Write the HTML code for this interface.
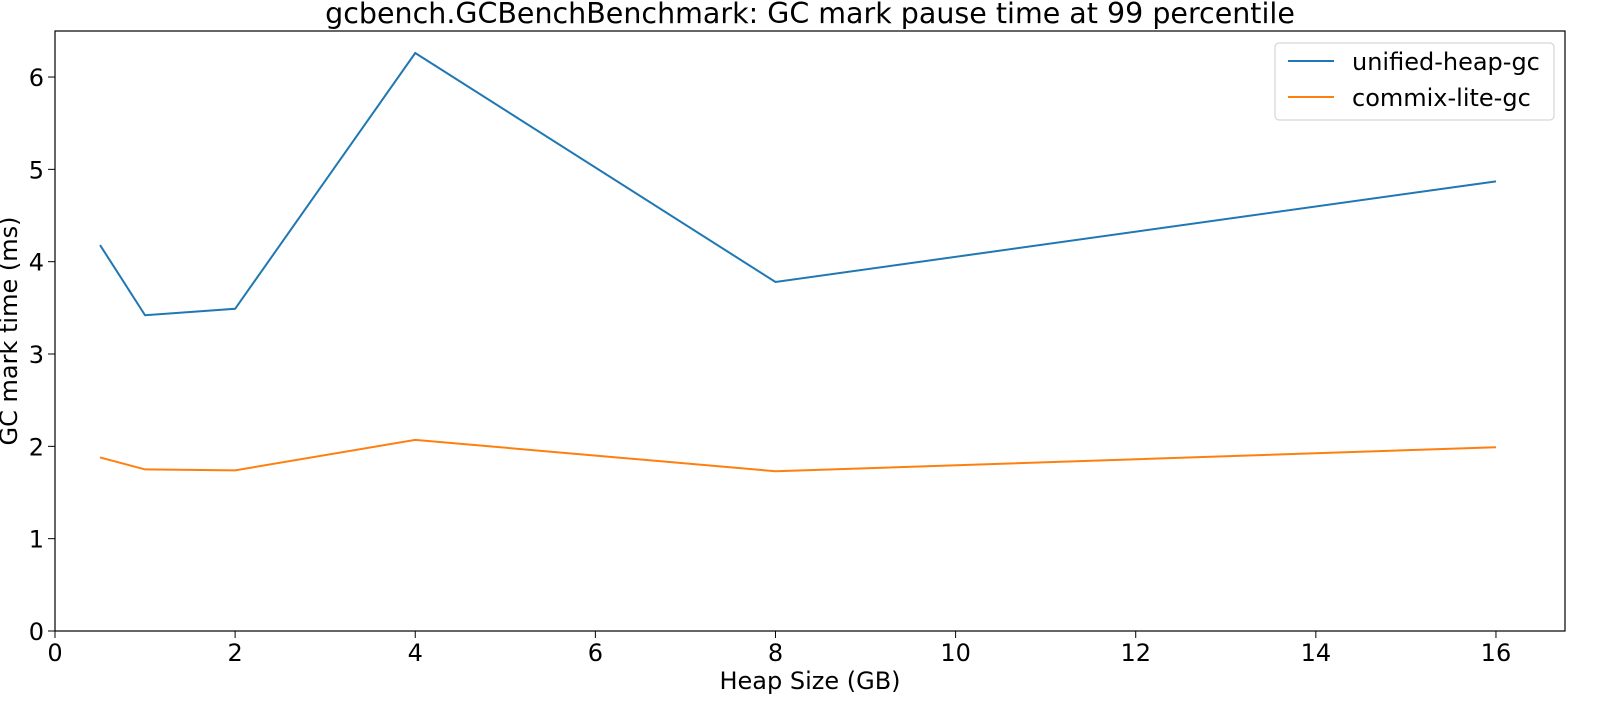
<!DOCTYPE html>
<html><head><meta charset="utf-8"><style>
body{margin:0;background:#fff;width:1608px;height:710px;overflow:hidden}
svg text{font-family:"DejaVu Sans","Liberation Sans",sans-serif;fill:#000}
</style></head><body>
<svg id="chart" width="1608" height="710" xmlns="http://www.w3.org/2000/svg">
<text x="810" y="23" font-size="28.5" text-anchor="middle">gcbench.GCBenchBenchmark: GC mark pause time at 99 percentile</text>
<g id="xt"></g>
<g id="yt"></g>
<g id="series"></g>
<rect x="55" y="31" width="1510" height="600" fill="none" stroke="#000" stroke-width="1.2"/>
<text x="810" y="689" font-size="24" text-anchor="middle">Heap Size (GB)</text>
<text transform="translate(17,331) rotate(-90)" font-size="24" text-anchor="middle">GC mark time (ms)</text>
<g>
<rect x="1275" y="43" width="279" height="77" rx="4" fill="#fff" stroke="#ccc"/>
<g><line x1="1288" y1="61" x2="1334" y2="61" stroke="#1f77b4" stroke-width="2"/><text x="1352" y="70" font-size="24">unified-heap-gc</text></g>
<g><line x1="1288" y1="97" x2="1334" y2="97" stroke="#ff7f0e" stroke-width="2"/><text x="1352" y="106" font-size="24">commix-lite-gc</text></g>
</g>
</svg>
<script>
const heapSizes=[0.5,1,2,4,8,16];
const unifiedHeap=[4.18,3.42,3.49,6.26,3.78,4.87];
const commixLite=[1.88,1.75,1.74,2.07,1.73,1.99];
const xTicks=[0,2,4,6,8,10,12,14,16];
const yTicks=[0,1,2,3,4,5,6];
const NS="http://www.w3.org/2000/svg";
const X=v=>55+v*90.06, Y=v=>631-v*92.33;
const xt=document.getElementById('xt'),yt=document.getElementById('yt'),sg=document.getElementById('series');
function mk(t,a,p){const e=document.createElementNS(NS,t);for(const k in a)e.setAttribute(k,a[k]);p.appendChild(e);return e;}
xTicks.forEach(v=>{
 const l=mk('line',{x1:X(v),x2:X(v),y1:631,y2:638,stroke:'#000'},xt);
 
 
 const t=mk('text',{x:X(v),y:661,'font-size':24,'text-anchor':'middle'},xt);t.textContent=v;
 
 
});
yTicks.forEach(v=>{
 const l=mk('line',{x1:48,x2:55,y1:Y(v),y2:Y(v),stroke:'#000'},yt);
 
 
 const t=mk('text',{x:44,y:Y(v)+9,'font-size':24,'text-anchor':'end'},yt);t.textContent=v;
 
 
});
[[unifiedHeap,'#1f77b4','unified-heap-gc-line'],[commixLite,'#ff7f0e','commix-lite-gc-line']].forEach(([d,c,n])=>{
 const p=mk('polyline',{points:d.map((v,i)=>X(heapSizes[i])+','+Y(v)).join(' '),fill:'none',stroke:c,'stroke-width':2},sg);
 
 
});
</script>
</body></html>
